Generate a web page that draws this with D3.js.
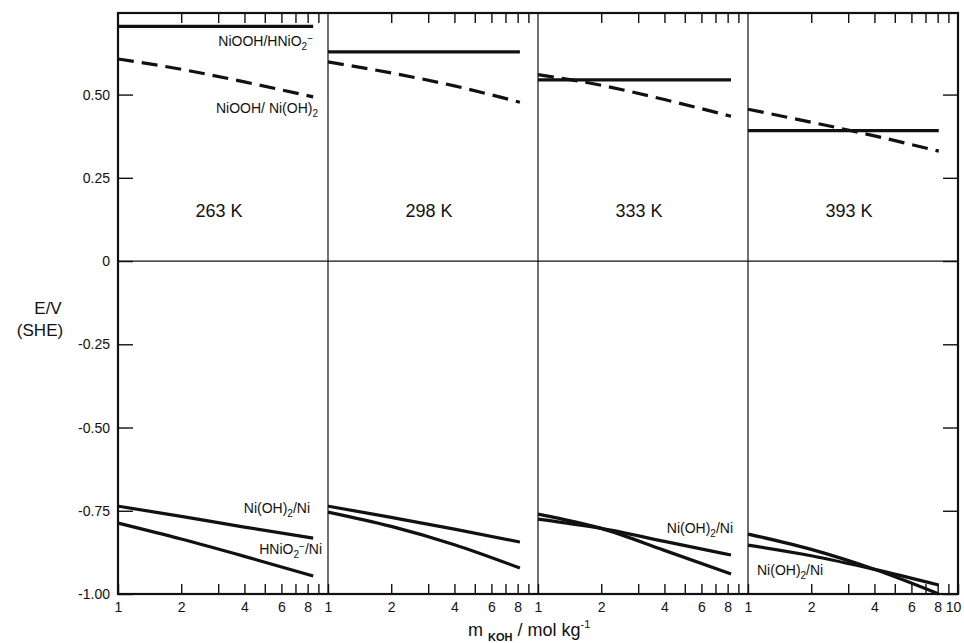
<!DOCTYPE html>
<html>
<head>
<meta charset="utf-8">
<script src="https://cdn.jsdelivr.net/npm/d3@7"></script>
<style>
  body { margin: 0; background: #fff; overflow: hidden; }
  svg { font-family: "Liberation Sans", Arial, sans-serif; display: block; }
  .domain { display: none; }
</style>
</head>
<body>
<div class="canvas"></div>
<script>
// Data
const temps = ['263 K', '298 K', '333 K', '393 K'];
const mEnd = [8.5, 8.2, 8.3, 8.1];
const mPts = [1, 2, 4];            // plus each panel's mEnd
// E / V (SHE) at m = 1, 2, 4, mEnd for each panel
const nioohHnio2 = [
    [0.705, 0.705, 0.705, 0.705],
    [0.628, 0.628, 0.628, 0.628],
    [0.544, 0.544, 0.544, 0.544],
    [0.392, 0.392, 0.392, 0.392]
];
const nioohNiOH2 = [
    [0.607, 0.576, 0.538, 0.493],
    [0.598, 0.565, 0.526, 0.477],
    [0.560, 0.528, 0.485, 0.435],
    [0.456, 0.417, 0.376, 0.330]
];
const niOH2Ni = [
    [-0.736, -0.767, -0.799, -0.832],
    [-0.736, -0.770, -0.805, -0.844],
    [-0.775, -0.803, -0.842, -0.883],
    [-0.853, -0.885, -0.926, -0.973]
];
const hnio2Ni = [
    [-0.787, -0.835, -0.887, -0.946],
    [-0.754, -0.797, -0.852, -0.922],
    [-0.760, -0.803, -0.869, -0.940],
    [-0.820, -0.866, -0.926, -1.000]
];
const yTicks = [0.5, 0.25, 0, -0.25, -0.5, -0.75, -1.0];
const yTickLabels = ['0.50', '0.25', '0', '-0.25', '-0.50', '-0.75', '-1.00'];
const xTicks = [1, 2, 3, 4, 5, 6, 7, 8, 9, 10];
const xLabelled = [1, 2, 4, 6, 8];

// Dimensions
const dims = {
    width: 964, height: 643,
    left: 118, top: 13, bottom: 594,
    panelW: 210
};
const right = dims.left + 4 * dims.panelW;

const svg = d3.select('.canvas').append('svg')
    .attr('width', dims.width)
    .attr('height', dims.height);

const y = d3.scaleLinear()
    .domain([-1.0, 0.745])
    .range([dims.bottom, dims.top]);

const series = [
    { vals: nioohHnio2, dash: null },
    { vals: nioohNiOH2, dash: '16,8' },
    { vals: niOH2Ni, dash: null },
    { vals: hnio2Ni, dash: null }
];

temps.forEach((t, i) => {
    const x0 = dims.left + i * dims.panelW;
    const x = d3.scaleLog().domain([1, 10]).range([x0, x0 + dims.panelW]);
    const ms = mPts.concat([mEnd[i]]);

    // bottom axis, ticks inward
    const last = i === temps.length - 1;
    const bottomAxis = d3.axisBottom(x)
        .tickValues(last ? xTicks : xTicks.slice(0, 9))
        .tickSizeInner(-10).tickSizeOuter(0).tickPadding(8)
        .tickFormat(d => (xLabelled.includes(d) || (last && d === 10)) ? d : '');
    const gb = svg.append('g')
        .attr('transform', `translate(0,${dims.bottom})`)
        .call(bottomAxis);
    gb.selectAll('text').attr('font-size', 14).attr('fill', '#111')
        .attr('dx', d => d === 10 ? -5 : 0);
    gb.selectAll('line').attr('stroke', '#111').attr('stroke-width', 1.4);

    // top axis, ticks inward
    const ga = svg.append('g')
        .attr('transform', `translate(0,${dims.top})`)
        .call(d3.axisTop(x).tickValues(xTicks.slice(1, 9))
            .tickSizeInner(-10).tickSizeOuter(0).tickFormat(''));
    ga.selectAll('line').attr('stroke', '#111').attr('stroke-width', 1.4);

    // curves
    const line = d3.line()
        .x((d, k) => x(ms[k]))
        .y(d => y(d))
        .curve(d3.curveMonotoneX);
    series.forEach(s => {
        svg.append('path')
            .attr('d', line(s.vals[i]))
            .attr('fill', 'none')
            .attr('stroke', '#111')
            .attr('stroke-width', 3.2)
            .attr('stroke-dasharray', s.dash);
    });

    // temperature
    svg.append('text')
        .attr('x', x0 + dims.panelW / 2 - 4)
        .attr('y', 217)
        .attr('text-anchor', 'middle')
        .attr('font-size', 18)
        .attr('fill', '#111')
        .text(t);

    // separator
    if (i > 0) {
        svg.append('line')
            .attr('x1', x0).attr('x2', x0)
            .attr('y1', dims.top).attr('y2', dims.bottom)
            .attr('stroke', '#111').attr('stroke-width', 1.2);
    }
});

// left axis
const gl = svg.append('g')
    .attr('transform', `translate(${dims.left},0)`)
    .call(d3.axisLeft(y).tickValues(yTicks)
        .tickSizeInner(-15).tickSizeOuter(0).tickPadding(8)
        .tickFormat((d, k) => yTickLabels[k]));
gl.selectAll('text').attr('font-size', 14).attr('fill', '#111');
gl.selectAll('line').attr('stroke', '#111').attr('stroke-width', 1.4);

// right axis
const gr = svg.append('g')
    .attr('transform', `translate(${right},0)`)
    .call(d3.axisRight(y).tickValues(yTicks)
        .tickSizeInner(-15).tickSizeOuter(0).tickFormat(''));
gr.selectAll('line').attr('stroke', '#111').attr('stroke-width', 1.4);

// frame
svg.append('rect')
    .attr('x', dims.left).attr('y', dims.top)
    .attr('width', right - dims.left)
    .attr('height', dims.bottom - dims.top)
    .attr('fill', 'none')
    .attr('stroke', '#111')
    .attr('stroke-width', 2.2);

// zero line
svg.append('line')
    .attr('x1', dims.left).attr('x2', right)
    .attr('y1', y(0)).attr('y2', y(0))
    .attr('stroke', '#111').attr('stroke-width', 1.2);

// curve labels
function label(xp, yp, parts, anchor) {
    const tx = svg.append('text')
        .attr('x', xp).attr('y', yp)
        .attr('text-anchor', anchor || 'start')
        .attr('font-size', 14)
        .attr('fill', '#111');
    parts.forEach(p => {
        const ts = tx.append('tspan').text(p.t);
        if (p.sub) ts.attr('font-size', 10).attr('dy', 4);
        if (p.sup) ts.attr('font-size', 10).attr('dy', -8);
        if (p.back) ts.attr('dy', p.back);
    });
}
label(313, 46, [{ t: 'NiOOH/HNiO' }, { t: '2', sub: true }, { t: '−', sup: true }, { t: '', back: 4 }], 'end');
label(318, 113, [{ t: 'NiOOH/ Ni(OH)' }, { t: '2', sub: true }], 'end');
label(310, 513, [{ t: 'Ni(OH)' }, { t: '2', sub: true }, { t: '/Ni', back: -4 }], 'end');
label(322, 554, [{ t: 'HNiO' }, { t: '2', sub: true }, { t: '−', sup: true }, { t: '/Ni', back: 4 }], 'end');
label(733, 533, [{ t: 'Ni(OH)' }, { t: '2', sub: true }, { t: '/Ni', back: -4 }], 'end');
label(757, 575, [{ t: 'Ni(OH)' }, { t: '2', sub: true }, { t: '/Ni', back: -4 }], 'start');

// axis titles
svg.append('text')
    .attr('x', 48).attr('y', 314)
    .attr('text-anchor', 'middle')
    .attr('font-size', 17).attr('fill', '#111')
    .text('E/V');
svg.append('text')
    .attr('x', 40).attr('y', 336)
    .attr('text-anchor', 'middle')
    .attr('font-size', 17).attr('fill', '#111')
    .text('(SHE)');

const xt = svg.append('text')
    .attr('x', 468).attr('y', 636)
    .attr('font-size', 18).attr('fill', '#111');
xt.append('tspan').text('m ');
xt.append('tspan').text('KOH').attr('font-size', 11).attr('font-weight', 'bold').attr('dy', 5);
xt.append('tspan').text(' / mol kg').attr('dy', -5);
xt.append('tspan').text('-1').attr('font-size', 11).attr('dy', -8);
</script>
</body>
</html>
